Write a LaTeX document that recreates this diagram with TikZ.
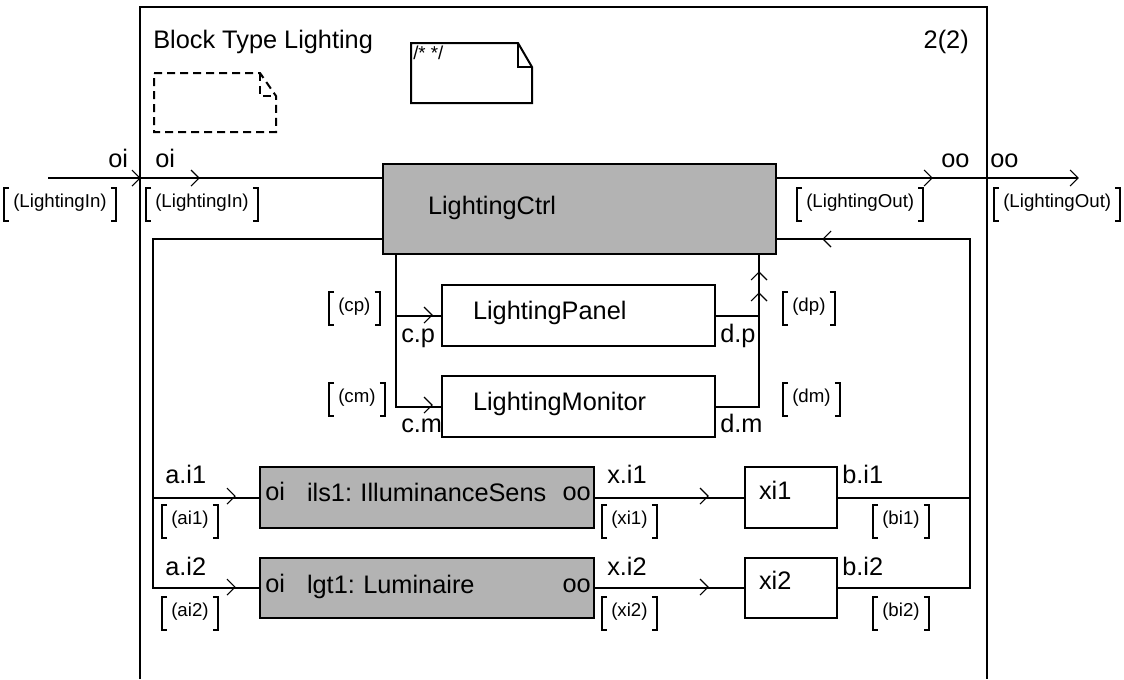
\documentclass[tikz,border=0pt]{standalone}
\usepackage{fontspec}
\setmainfont{Liberation Sans}
\usetikzlibrary{calc}
\definecolor{boxgray}{RGB}{179,179,179}
\frenchspacing
\tikzset{
  big/.style={font=\fontsize{19}{22}\selectfont},
  lbl/.style={big, inner sep=0pt},
  wire/.style={line width=1.5pt},
  chev/.style={line width=0.8pt},
  blk/.style={draw, line width=1.5pt, anchor=north west, big, align=left,
    inner ysep=0pt, text height=14.25pt, text depth=9pt},
  gblk/.style={blk, fill=boxgray},
  brk/.style={font=\fontsize{14}{16}\selectfont, inner xsep=6.75pt, inner ysep=0pt,
    text height=14.6pt, text depth=10.1pt, anchor=north west},
  notedash/.style={wire, dash pattern=on 6pt off 3.75pt},
}
\newcommand\brkt[4]{%
  \node[brk] (#1) at (#2,#3) {#4};
  \draw[wire] ([xshift=3.75pt]#1.north west) -- (#1.north west) -- (#1.south west) -- ([xshift=3.75pt]#1.south west);
  \draw[wire] ([xshift=-3.75pt]#1.north east) -- (#1.north east) -- (#1.south east) -- ([xshift=-3.75pt]#1.south east);}
\newcommand\chev[3]{\draw[chev, shift={(#1,#2)}, rotate=#3] (-8,8) -- (0,0) -- (-8,-8);}
\begin{document}
\begin{tikzpicture}[x=0.75pt,y=-0.75pt]
\useasboundingbox (0,0) rectangle (1124,679);
% frame
\draw[wire] (140,679) -- (140,7) -- (987,7) -- (987,679);
\node[lbl, anchor=base west] (title) at (153,48) {Block Type Lighting};
\node[lbl, anchor=base east] (page) at (969,48) {2(2)};
% comment note
\draw[wire] (411,43) -- (518,43) -- (532,67) -- (532,103) -- (411,103) -- cycle;
\draw[wire] (518,43) -- (518,67) -- (532,67);
\node[anchor=base west, inner sep=0pt, font=\fontsize{14}{15}\selectfont] (cmt) at (413,59) {/* */};
% dashed note
\draw[notedash] (154,73) -- (260,73) -- (276,96) -- (276,132) -- (154,132) -- cycle;
\draw[notedash] (260,73) -- (260,96) -- (276,96);
% blocks
\node[gblk, minimum width=294.75pt, minimum height=67.5pt, inner xsep=33.75pt, text width=227.25pt, text depth=6.75pt] (ctrl) at (382,163) {LightingCtrl};
\node[blk, minimum width=204.75pt, minimum height=45.75pt, inner xsep=23.25pt, text width=158.25pt] (panel) at (441,284) {LightingPanel};
\node[blk, minimum width=204.75pt, minimum height=45.75pt, inner xsep=23.25pt, text width=158.25pt] (monitor) at (441,375) {LightingMonitor};
\node[gblk, minimum width=250.5pt, minimum height=45.75pt, inner xsep=35.25pt, text width=180pt] (ils) at (259,466) {\mbox{ils1: IlluminanceSens}};
\node[gblk, minimum width=250.5pt, minimum height=45pt, inner xsep=35.25pt, text width=180pt, text depth=6.75pt] (lgt) at (259,557) {\mbox{lgt1: Luminaire}};
\node[blk, minimum width=69pt, minimum height=45.75pt, inner xsep=10.5pt, text width=48pt, text depth=12pt] (xi1) at (744,466) {xi1};
\node[blk, minimum width=69pt, minimum height=45pt, inner xsep=10.5pt, text width=48pt, text depth=12pt] (xi2) at (744,557) {xi2};
% ports inside gray blocks
\node[lbl, anchor=base west] (ilsoi) at (265,500) {oi};
\node[lbl, anchor=base east] (ilsoo) at (591,500) {oo};
\node[lbl, anchor=base west] (lgtoi) at (265,592) {oi};
\node[lbl, anchor=base east] (lgtoo) at (591,592) {oo};
% coordinates
\coordinate (inS) at (48,178);
\coordinate (outE) at (1078,178);
\coordinate (L1) at (153,239);
\coordinate (R1) at (970,239);
\coordinate (cT) at (396,253);
\coordinate (dT) at (759,253);
% wires
\draw[wire] (inS) -- (inS -| ctrl.west);
\draw[wire] (outE -| ctrl.east) -- (outE);
\draw[wire] (L1 -| ctrl.west) -- (L1) -- (L1 |- lgt.west) -- (lgt.west);
\draw[wire] (L1 |- ils.west) -- (ils.west);
\draw[wire] (ils.east) -- (xi1.west);
\draw[wire] (lgt.east) -- (xi2.west);
\draw[wire] (xi1.east) -- (R1 |- xi1.east);
\draw[wire] (xi2.east) -- (R1 |- xi2.east) -- (R1) -- (R1 -| ctrl.east);
\draw[wire] (cT) -- (cT |- monitor.west) -- (monitor.west);
\draw[wire] (cT |- panel.west) -- (panel.west);
\draw[wire] (panel.east) -- (panel.east -| dT);
\draw[wire] (monitor.east) -- (monitor.east -| dT) -- (dT);
% chevrons
\chev{140}{178}{0}
\chev{199}{178}{0}
\chev{932}{178}{0}
\chev{1078}{178}{0}
\chev{432}{315}{0}
\chev{432}{405}{0}
\chev{759}{272}{90}
\chev{759}{293}{90}
\chev{823}{239}{180}
\chev{235}{496}{0}
\chev{235}{587}{0}
\chev{708}{496}{0}
\chev{708}{587}{0}
% wire labels
\node[lbl, anchor=base west] (oiA) at (108,167) {oi};
\node[lbl, anchor=base west] (oiB) at (155,167) {oi};
\node[lbl, anchor=base west] (ooA) at (941,167) {oo};
\node[lbl, anchor=base west] (ooB) at (990,167) {oo};
\node[lbl, anchor=base west] (cp) at (401,342) {c.p};
\node[lbl, anchor=base west] (cm) at (401,432) {c.m};
\node[lbl, anchor=base west] (dp) at (720,342) {d.p};
\node[lbl, anchor=base west] (dm) at (720,432) {d.m};
\node[lbl, anchor=base west] (ai1) at (165,483) {a.i1};
\node[lbl, anchor=base west] (ai2) at (165,575) {a.i2};
\node[lbl, anchor=base west] (xil1) at (607,483) {x.i1};
\node[lbl, anchor=base west] (xil2) at (607,575) {x.i2};
\node[lbl, anchor=base west] (bi1) at (842,483) {b.i1};
\node[lbl, anchor=base west] (bi2) at (842,575) {b.i2};
% signal lists
\brkt{sInO}{4}{188}{(LightingIn)}
\brkt{sInI}{146}{188}{(LightingIn)}
\brkt{sOutI}{797}{188}{(LightingOut)}
\brkt{sOutO}{994}{188}{(LightingOut)}
\brkt{scp}{329}{292}{(cp)}
\brkt{scm}{329}{383}{(cm)}
\brkt{sdp}{783}{292}{(dp)}
\brkt{sdm}{783}{383}{(dm)}
\brkt{sai1}{162}{505}{(ai1)}
\brkt{sai2}{162}{597}{(ai2)}
\brkt{sxi1}{602}{505}{(xi1)}
\brkt{sxi2}{602}{597}{(xi2)}
\brkt{sbi1}{873}{505}{(bi1)}
\brkt{sbi2}{873}{597}{(bi2)}
\end{tikzpicture}
\end{document}
